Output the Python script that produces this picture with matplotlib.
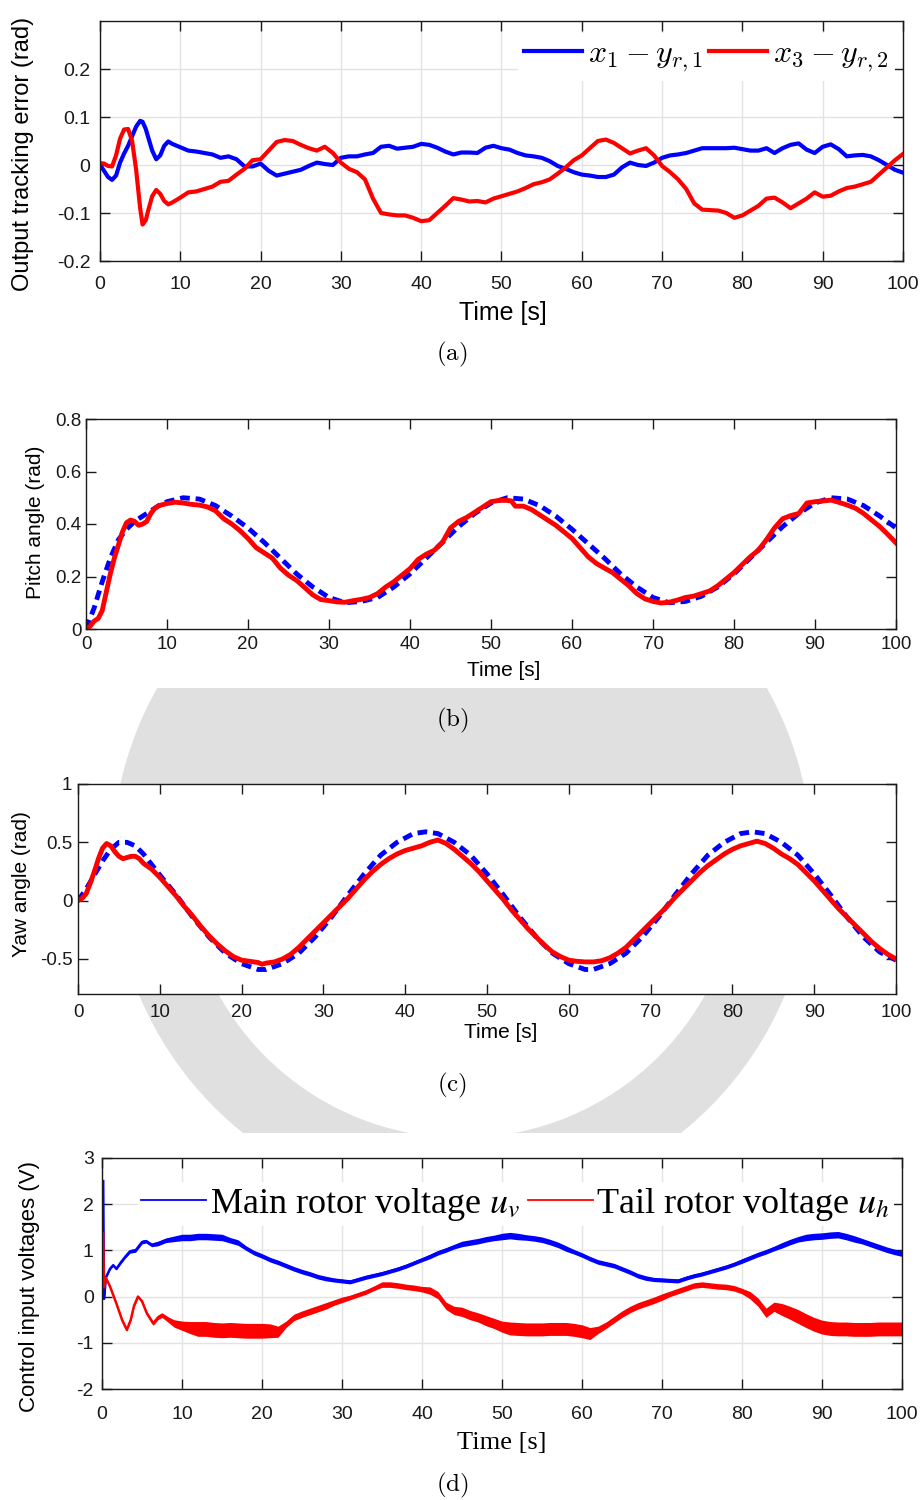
"""Helicopter tracking results: errors, pitch, yaw and control voltages (4 panels)."""
import numpy as np
import matplotlib.pyplot as plt
import matplotlib as mpl
from matplotlib.patches import Wedge, Rectangle, Circle
from matplotlib.font_manager import FontProperties

mpl.rcParams.update({
    "font.family": ["Liberation Sans", "DejaVu Sans"],
    "axes.linewidth": 1.0,
    "axes.edgecolor": "#1a1a1a",
    "xtick.direction": "in",
    "ytick.direction": "in",
    "xtick.top": True,
    "ytick.right": True,
    "xtick.major.size": 7,
    "ytick.major.size": 7,
    "axes.grid": False,
})

# ---------------- data ----------------
X_TICKS = [0, 10, 20, 30, 40, 50, 60, 70, 80, 90, 100]

# (a) output tracking error
t_err = [0, 0.5, 1, 1.5, 2, 2.5, 3, 3.5, 4, 4.5, 5, 5.3, 5.7, 6, 6.5, 7, 7.5, 8, 8.5, 9,
         10, 11, 12, 13, 14, 15, 16, 17, 18, 19, 20, 21, 22, 23, 24, 25, 26, 27, 28, 29,
         30, 31, 32, 33, 34, 35, 36, 37, 38, 39, 40, 41, 42, 43, 44, 45, 46, 47, 48, 49,
         50, 51, 52, 53, 54, 55, 56, 57, 58, 59, 60, 61, 62, 63, 64, 65, 66, 67, 68, 69,
         70, 71, 72, 73, 74, 75, 76, 77, 78, 79, 80, 81, 82, 83, 84, 85, 86, 87, 88, 89,
         90, 91, 92, 93, 94, 95, 96, 97, 98, 99, 100]
err_pitch = [0.0, -0.012, -0.025, -0.031, -0.022, 0.005, 0.024, 0.04, 0.06, 0.08, 0.092, 0.09, 0.075,
             0.058, 0.03, 0.012, 0.02, 0.04, 0.049, 0.044,
             0.037, 0.03, 0.028, 0.025, 0.022, 0.015, 0.018, 0.012, -0.003, -0.003,
             0.003, -0.012, -0.022, -0.018, -0.014, -0.01, -0.002, 0.005, 0.002, 0.0,
             0.015, 0.018, 0.018, 0.022, 0.025, 0.038, 0.04, 0.034, 0.036, 0.038,
             0.044, 0.042, 0.036, 0.028, 0.022, 0.026, 0.026, 0.025, 0.036, 0.04,
             0.035, 0.032, 0.025, 0.02, 0.018, 0.015, 0.008, -0.002, -0.008, -0.015,
             -0.02, -0.022, -0.025, -0.025, -0.02, -0.005, 0.005, 0.0, -0.002, 0.005,
             0.015, 0.02, 0.022, 0.025, 0.03, 0.035, 0.035, 0.035, 0.035, 0.036,
             0.033, 0.03, 0.03, 0.035, 0.025, 0.035, 0.042, 0.045, 0.032, 0.025,
             0.038, 0.043, 0.033, 0.018, 0.02, 0.021, 0.018, 0.01, 0.0, -0.01, -0.016]
err_yaw = [0.004, 0.003, -0.002, -0.003, 0.02, 0.055, 0.074, 0.075, 0.05, -0.01, -0.09, -0.124, -0.115,
           -0.095, -0.065, -0.052, -0.06, -0.075, -0.082, -0.078,
           -0.068, -0.057, -0.055, -0.05, -0.045, -0.035, -0.033, -0.02, -0.008, 0.01,
           0.012, 0.03, 0.048, 0.052, 0.05, 0.042, 0.035, 0.03, 0.038, 0.025,
           0.005, -0.008, -0.015, -0.03, -0.07, -0.1, -0.103, -0.105, -0.105, -0.11,
           -0.117, -0.115, -0.1, -0.085, -0.069, -0.072, -0.076, -0.075, -0.078, -0.07,
           -0.065, -0.06, -0.055, -0.048, -0.04, -0.036, -0.03, -0.018, -0.005, 0.01,
           0.02, 0.035, 0.05, 0.053, 0.046, 0.035, 0.024, 0.03, 0.035, 0.02,
           -0.002, -0.015, -0.03, -0.05, -0.08, -0.093, -0.094, -0.095, -0.1, -0.11,
           -0.105, -0.095, -0.085, -0.07, -0.068, -0.078, -0.09, -0.08, -0.07, -0.057,
           -0.066, -0.064, -0.055, -0.048, -0.045, -0.04, -0.035, -0.02, -0.005, 0.01, 0.023]
ERR_YTICKS = [-0.2, -0.1, 0, 0.1, 0.2]
ERR_YLABELS = ["-0.2", "-0.1", "0", "0.1", "0.2"]

# (b) pitch angle
t_pitch_ref = [0, 1, 2, 3, 4, 5, 6, 7, 8, 9, 10, 12, 14, 16, 18, 20, 22, 24, 26, 28, 30, 32,
               34, 36, 38, 40, 42, 44, 46, 48, 50, 52, 54, 56, 58, 60, 62, 64, 66, 68, 70,
               72, 74, 76, 78, 80, 82, 84, 86, 88, 90, 92, 94, 96, 98, 100]
pitch_ref = [0.0, 0.08, 0.18, 0.27, 0.34, 0.38, 0.41, 0.43, 0.45, 0.47, 0.485, 0.5, 0.495,
             0.47, 0.43, 0.385, 0.33, 0.27, 0.21, 0.16, 0.12, 0.1, 0.105, 0.12, 0.16, 0.21,
             0.27, 0.33, 0.39, 0.44, 0.48, 0.5, 0.495, 0.47, 0.43, 0.38, 0.325, 0.27, 0.21,
             0.16, 0.12, 0.1, 0.105, 0.125, 0.16, 0.21, 0.27, 0.33, 0.39, 0.44, 0.48, 0.5,
             0.495, 0.47, 0.43, 0.385]
t_pitch = [0, 0.5, 1, 1.5, 2, 2.5, 3, 3.5, 4, 4.5, 5, 5.5, 6, 6.5, 7, 7.5, 8, 8.5, 9,
           10, 11, 12, 13, 14, 15, 16, 17, 18, 19, 20, 21, 22, 23, 24, 25, 26, 27, 28, 29,
           30, 31, 32, 33, 34, 35, 36, 37, 38, 39, 40, 41, 42, 43, 44, 45, 46, 47, 48, 49,
           50, 51, 52, 52.5, 53, 54, 55, 56, 57, 58, 59, 60, 61, 62, 63, 64, 65, 66, 67, 68, 69,
           70, 71, 72, 73, 74, 75, 76, 77, 78, 79, 80, 81, 82, 83, 84, 85, 86, 87, 88, 89,
           90, 91, 92, 93, 94, 95, 96, 97, 98, 99, 100]
pitch = [0.0, 0.01, 0.03, 0.04, 0.07, 0.14, 0.21, 0.27, 0.32, 0.37, 0.405, 0.415, 0.41, 0.395,
         0.4, 0.41, 0.44, 0.46, 0.47,
         0.478, 0.483, 0.48, 0.475, 0.472, 0.465, 0.45, 0.42, 0.4, 0.375, 0.345,
         0.31, 0.29, 0.27, 0.232, 0.205, 0.185, 0.158, 0.13, 0.112,
         0.108, 0.103, 0.102, 0.108, 0.113, 0.12, 0.135, 0.16, 0.18, 0.205,
         0.23, 0.265, 0.285, 0.3, 0.33, 0.385, 0.41, 0.425, 0.445, 0.465,
         0.485, 0.49, 0.49, 0.488, 0.468, 0.468, 0.455, 0.435, 0.415, 0.395, 0.37,
         0.345, 0.31, 0.275, 0.25, 0.232, 0.215, 0.19, 0.165, 0.135, 0.115,
         0.105, 0.099, 0.102, 0.11, 0.12, 0.125, 0.135, 0.145, 0.165, 0.19,
         0.215, 0.245, 0.275, 0.3, 0.34, 0.385, 0.42, 0.432, 0.44, 0.48,
         0.485, 0.488, 0.491, 0.482, 0.472, 0.46, 0.44, 0.415, 0.39, 0.36, 0.328]
PITCH_YTICKS = [0, 0.2, 0.4, 0.6, 0.8]
PITCH_YLABELS = ["0", "0.2", "0.4", "0.6", "0.8"]

# (c) yaw angle
t_yaw_ref = [0, 1, 2, 3, 4, 5, 6, 7, 8, 10, 12, 14, 16, 18, 20, 22, 23, 25, 27, 29, 31, 33,
             35, 37, 39, 41, 42.5, 44, 46, 48, 50, 52, 54, 56, 58, 60, 62, 63, 65, 67, 69,
             71, 73, 75, 77, 79, 81, 82.5, 84, 86, 88, 90, 92, 94, 96, 98, 100]
yaw_ref = [0.0, 0.1, 0.22, 0.34, 0.44, 0.5, 0.5, 0.47, 0.4, 0.22, 0.05, -0.14, -0.31, -0.45,
           -0.54, -0.59, -0.59, -0.54, -0.45, -0.31, -0.14, 0.05, 0.23, 0.39, 0.5, 0.575,
           0.59, 0.575, 0.5, 0.39, 0.23, 0.05, -0.14, -0.31, -0.45, -0.54, -0.59, -0.59,
           -0.54, -0.45, -0.31, -0.14, 0.05, 0.23, 0.39, 0.5, 0.575, 0.59, 0.575, 0.5, 0.39,
           0.23, 0.05, -0.14, -0.31, -0.44, -0.51]
t_yaw = [0, 0.5, 1, 1.5, 2, 2.5, 3, 3.5, 4, 4.5, 5, 5.5, 6, 6.5, 7, 7.5, 8, 9,
         10, 11, 12, 13, 14, 15, 16, 17, 18, 19, 20, 21, 22, 22.5, 23, 24, 25, 26, 27, 28, 29,
         30, 31, 32, 33, 34, 35, 36, 37, 38, 39, 40, 41, 42, 43, 44, 45, 46, 47, 48, 49,
         50, 51, 52, 53, 54, 55, 56, 57, 58, 59, 60, 61, 62, 63, 64, 65, 66, 67, 68, 69,
         70, 71, 72, 73, 74, 75, 76, 77, 78, 79, 80, 81, 82, 83, 84, 85, 86, 87, 88, 89,
         90, 91, 92, 93, 94, 95, 96, 97, 98, 99, 100]
yaw = [0.0, 0.02, 0.06, 0.15, 0.25, 0.36, 0.45, 0.49, 0.47, 0.42, 0.38, 0.36, 0.37, 0.38,
       0.38, 0.36, 0.32, 0.27,
       0.2, 0.12, 0.04, -0.05, -0.13, -0.22, -0.3, -0.37, -0.43, -0.48, -0.51, -0.52, -0.53,
       -0.545, -0.535, -0.525, -0.5, -0.46, -0.4, -0.33, -0.26,
       -0.19, -0.12, -0.05, 0.02, 0.1, 0.18, 0.25, 0.31, 0.36, 0.4,
       0.43, 0.45, 0.47, 0.5, 0.52, 0.49, 0.44, 0.38, 0.32, 0.25,
       0.17, 0.09, 0.01, -0.08, -0.16, -0.24, -0.31, -0.38, -0.44, -0.48,
       -0.51, -0.52, -0.525, -0.525, -0.515, -0.49, -0.45, -0.4, -0.33, -0.26,
       -0.19, -0.12, -0.05, 0.03, 0.1, 0.17, 0.24, 0.3, 0.35, 0.4,
       0.44, 0.47, 0.49, 0.51, 0.49, 0.45, 0.4, 0.36, 0.31, 0.24,
       0.17, 0.09, 0.01, -0.07, -0.14, -0.21, -0.28, -0.35, -0.41, -0.46, -0.5]
YAW_YTICKS = [-0.5, 0, 0.5, 1]
YAW_YLABELS = ["-0.5", "0", "0.5", "1"]

# (d) control voltages: centre line and half-width of the chattering band
t_uv = [0.15, 0.25, 0.5, 1.0, 1.4, 1.8, 2.4, 2.9, 3.5, 4.2, 5.0, 5.5, 6.2, 7.0, 8.0, 9,
        10, 11, 12, 13, 14, 15, 16, 17, 18, 19, 20, 21, 22, 23, 24, 25, 26, 27, 28, 29,
        30, 31, 32, 33, 34, 35, 36, 37, 38, 39, 40, 41, 42, 43, 44, 45, 46, 47, 48, 49,
        50, 51, 52, 53, 54, 55, 56, 57, 58, 59, 60, 61, 62, 63, 64, 65, 66, 67, 68, 69,
        70, 71, 72, 73, 74, 75, 76, 77, 78, 79, 80, 81, 82, 83, 84, 85, 86, 87, 88, 89,
        90, 91, 92, 93, 94, 95, 96, 97, 98, 99, 100]
u_v = [2.5, -0.05, 0.42, 0.6, 0.68, 0.6, 0.75, 0.86, 0.98, 1.0, 1.18, 1.2, 1.12, 1.15, 1.22, 1.25,
       1.28, 1.28, 1.3, 1.3, 1.29, 1.28, 1.22, 1.17, 1.05, 0.95, 0.88, 0.8, 0.74, 0.67,
       0.6, 0.54, 0.49, 0.43, 0.39, 0.36, 0.34, 0.32, 0.37, 0.42, 0.46, 0.5, 0.55, 0.6,
       0.66, 0.73, 0.8, 0.87, 0.95, 1.01, 1.08, 1.14, 1.17, 1.2, 1.24, 1.27, 1.3, 1.32,
       1.3, 1.28, 1.26, 1.23, 1.18, 1.12, 1.04, 0.97, 0.9, 0.82, 0.75, 0.71, 0.67, 0.6,
       0.53, 0.45, 0.4, 0.37, 0.36, 0.35, 0.34, 0.4, 0.45, 0.49, 0.54, 0.59, 0.64, 0.7,
       0.77, 0.84, 0.91, 0.97, 1.04, 1.11, 1.18, 1.24, 1.28, 1.3, 1.31, 1.33, 1.34, 1.3,
       1.25, 1.2, 1.14, 1.08, 1.02, 0.97, 0.93]
u_v_band = [0.0, 0.0, 0.02, 0.02, 0.02, 0.02, 0.03, 0.03, 0.04, 0.04, 0.04, 0.04, 0.04, 0.05, 0.05, 0.06,
            0.07, 0.07, 0.07, 0.07, 0.07, 0.07, 0.06, 0.06, 0.05, 0.05, 0.05, 0.05, 0.05, 0.05,
            0.05, 0.05, 0.05, 0.05, 0.05, 0.045, 0.045, 0.045, 0.045, 0.045, 0.045, 0.045, 0.045,
            0.045, 0.045, 0.045, 0.045, 0.05, 0.05, 0.05, 0.05, 0.06, 0.06, 0.06, 0.06, 0.06,
            0.07, 0.07, 0.07, 0.06, 0.06, 0.06, 0.06, 0.06, 0.06, 0.05, 0.05, 0.05, 0.05, 0.05,
            0.05, 0.05, 0.05, 0.05, 0.05, 0.045, 0.045, 0.045, 0.045, 0.045, 0.045, 0.045, 0.045,
            0.045, 0.045, 0.045, 0.05, 0.05, 0.05, 0.05, 0.05, 0.06, 0.06, 0.06, 0.07, 0.07,
            0.07, 0.07, 0.07, 0.07, 0.07, 0.06, 0.06, 0.06, 0.06, 0.06, 0.06]
t_uh = [0.15, 0.25, 0.5, 1.0, 1.8, 2.5, 3.1, 3.6, 4.0, 4.5, 5.0, 5.6, 6.4, 7.0, 7.5, 8.3, 9,
        10, 11, 12, 13, 14, 15, 16, 17, 18, 19, 20, 21, 22, 23, 24, 25, 26, 27, 28, 29,
        30, 31, 32, 33, 34, 35, 36, 37, 38, 39, 40, 41, 42, 43, 44, 45, 46, 47, 48, 49,
        50, 51, 52, 53, 54, 55, 56, 57, 58, 59, 60, 61, 62, 63, 64, 65, 66, 67, 68, 69,
        70, 71, 72, 73, 74, 75, 76, 77, 78, 79, 80, 81, 82, 83, 84, 85, 86, 87, 88, 89,
        90, 91, 92, 93, 94, 95, 96, 97, 98, 99, 100]
u_h = [1.37, 0.2, 0.4, 0.22, -0.15, -0.5, -0.72, -0.5, -0.2, 0.0, -0.1, -0.36, -0.58, -0.45,
       -0.4, -0.5, -0.58,
       -0.63, -0.67, -0.7, -0.7, -0.72, -0.73, -0.72, -0.73, -0.74, -0.74, -0.74, -0.74,
       -0.76, -0.6, -0.45, -0.38, -0.32, -0.26, -0.2, -0.13, -0.07, -0.02, 0.04, 0.1,
       0.18, 0.26, 0.26, 0.24, 0.21, 0.19, 0.16, 0.13, 0.03, -0.2, -0.3, -0.33, -0.4,
       -0.45, -0.52, -0.58, -0.65, -0.69, -0.7, -0.71, -0.71, -0.71, -0.7, -0.7, -0.7,
       -0.72, -0.75, -0.8, -0.72, -0.62, -0.5, -0.38, -0.28, -0.2, -0.14, -0.08, -0.01,
       0.06, 0.12, 0.18, 0.24, 0.26, 0.24, 0.22, 0.21, 0.18, 0.12, 0.03, -0.12, -0.35,
       -0.22, -0.28, -0.35, -0.43, -0.52, -0.6, -0.66, -0.69, -0.7, -0.7, -0.71, -0.71,
       -0.71, -0.7, -0.7, -0.7, -0.7]
u_h_band = [0.0, 0.0, 0.03, 0.03, 0.03, 0.03, 0.03, 0.03, 0.03, 0.03, 0.03, 0.04, 0.04, 0.05,
            0.05, 0.06, 0.08,
            0.1, 0.13, 0.16, 0.16, 0.16, 0.16, 0.16, 0.16, 0.16, 0.16, 0.16, 0.15, 0.12,
            0.07, 0.07, 0.07, 0.07, 0.07, 0.07, 0.06, 0.06, 0.05, 0.05, 0.05, 0.05, 0.06,
            0.06, 0.06, 0.06, 0.06, 0.06, 0.08, 0.08, 0.08, 0.09, 0.1, 0.1, 0.1, 0.11,
            0.11, 0.12, 0.14, 0.14, 0.14, 0.14, 0.14, 0.14, 0.14, 0.14, 0.14, 0.14, 0.13,
            0.08, 0.07, 0.07, 0.07, 0.07, 0.07, 0.07, 0.07, 0.07, 0.06, 0.06, 0.06, 0.06,
            0.06, 0.06, 0.06, 0.06, 0.06, 0.06, 0.08, 0.09, 0.1, 0.1, 0.13, 0.14, 0.15,
            0.15, 0.15, 0.15, 0.15, 0.15, 0.15, 0.15, 0.15, 0.15, 0.15, 0.15, 0.15, 0.15]
U_YTICKS = [-2, -1, 0, 1, 2, 3]
U_YLABELS = ["-2", "-1", "0", "1", "2", "3"]

BLUE = "#0000ff"
RED = "#ff0000"
GRID = "#e3e3e3"
WATERMARK = "#e0e0e0"

W_PX, H_PX = 924, 1500


def px_rect(left, top, right, bottom):
    """Axes rectangle from pixel box (origin top-left)."""
    return [left / W_PX, 1 - bottom / H_PX, (right - left) / W_PX, (bottom - top) / H_PX]


def fig_label(fig, x, y, text, **kw):
    """Place a text at pixel centre (x, y), origin top-left."""
    fig.text(x / W_PX, 1 - y / H_PX, text, ha="center", va="center", zorder=3, **kw)


def style_axes(ax, yticks, ylabels, ylim, tick_fs, grid=False):
    ax.set_xlim(0, 100)
    ax.set_ylim(*ylim)
    ax.set_xticks(X_TICKS)
    ax.set_xticklabels([str(v) for v in X_TICKS])
    ax.set_yticks(yticks)
    ax.set_yticklabels(ylabels)
    ax.tick_params(labelsize=tick_fs, colors="#1a1a1a", width=1.0)
    ax.set_facecolor("white")
    if grid:
        ax.grid(color=GRID, linewidth=1.0)
        ax.set_axisbelow(True)


def main():
    fig = plt.figure(figsize=(W_PX / 100, H_PX / 100), dpi=100)

    # faint emblem watermark, only seen in the gaps between panels
    bg = fig.add_axes([0, 0, 1, 1], zorder=0)
    bg.set_xlim(0, W_PX)
    bg.set_ylim(H_PX, 0)
    bg.axis("off")
    ring = Wedge((462, 860), 350, 0, 360, width=72, color=WATERMARK, lw=0)
    bg.add_patch(ring)
    ring.set_clip_path(Rectangle((0, 688), W_PX, 445, transform=bg.transData))
    cap = Circle((462, 860), 290, color=WATERMARK, lw=0)
    bg.add_patch(cap)
    cap.set_clip_path(Rectangle((0, 688), W_PX, 172, transform=bg.transData))

    # (a) output tracking error
    ax = fig.add_axes(px_rect(100, 21, 903, 261), zorder=1)
    style_axes(ax, ERR_YTICKS, ERR_YLABELS, (-0.2, 0.3), 14, grid=True)
    ax.tick_params(axis="x", pad=11)
    ax.tick_params(axis="y", pad=7)
    ax.plot(t_err, err_pitch, color=BLUE, lw=3, label=r"$x_1 - y_{r,1}$")
    ax.plot(t_err, err_yaw, color=RED, lw=3, label=r"$x_3 - y_{r,2}$")
    ax.legend(loc="center right", bbox_to_anchor=(0.99, 0.85), ncol=2, frameon=True,
              fancybox=False, facecolor="white", edgecolor="none", framealpha=1,
              prop=FontProperties(size=23, math_fontfamily="cm"),
              handlelength=1.8, handletextpad=0.2, columnspacing=0.2,
              borderpad=0.2, borderaxespad=0.0)
    fig_label(fig, 503, 313, "Time [s]", fontsize=18)
    fig_label(fig, 23, 154, "Output tracking error (rad)", fontsize=17, rotation=90)

    # (b) pitch angle
    ax = fig.add_axes(px_rect(86, 419, 896, 629), zorder=1)
    style_axes(ax, PITCH_YTICKS, PITCH_YLABELS, (0, 0.8), 13.5)
    ax.tick_params(axis="x", pad=5)
    ax.tick_params(axis="y", pad=3)
    ax.plot(t_pitch_ref, pitch_ref, color=BLUE, lw=3.5, dashes=(2.0, 1.2))
    ax.plot(t_pitch, pitch, color=RED, lw=3.5)
    fig_label(fig, 504, 671, "Time [s]", fontsize=15)
    fig_label(fig, 36, 522, "Pitch angle (rad)", fontsize=15, rotation=90)

    # (c) yaw angle
    ax = fig.add_axes(px_rect(78, 784, 896, 994), zorder=1)
    style_axes(ax, YAW_YTICKS, YAW_YLABELS, (-0.8, 1.0), 13.5)
    ax.tick_params(axis="x", pad=7)
    ax.tick_params(axis="y", pad=4)
    ax.plot(t_yaw_ref, yaw_ref, color=BLUE, lw=3.5, dashes=(2.0, 1.2))
    ax.plot(t_yaw, yaw, color=RED, lw=3.5)
    fig_label(fig, 501, 1033, "Time [s]", fontsize=15)
    fig_label(fig, 22, 884, "Yaw angle (rad)", fontsize=15, rotation=90)

    # (d) control input voltages
    ax = fig.add_axes(px_rect(102, 1158, 902, 1389), zorder=1)
    style_axes(ax, U_YTICKS, U_YLABELS, (-2, 3), 14, grid=True)
    ax.tick_params(axis="x", pad=12)
    ax.tick_params(axis="y", pad=6)
    uv = np.array(u_v)
    uvb = np.array(u_v_band)
    uh = np.array(u_h)
    uhb = np.array(u_h_band)
    ax.fill_between(t_uv, uv - uvb, uv + uvb, color=BLUE, lw=0)
    ax.plot(t_uv, u_v, color=BLUE, lw=1.8, label=r"Main rotor voltage $u_v$")
    ax.fill_between(t_uh, uh - uhb, uh + uhb, color=RED, lw=0)
    ax.plot(t_uh, u_h, color=RED, lw=1.8, label=r"Tail rotor voltage $u_h$")
    leg = ax.legend(loc="center right", bbox_to_anchor=(0.99, 0.80), ncol=2, frameon=True,
                    fancybox=False, facecolor="white", edgecolor="none", framealpha=1,
                    prop=FontProperties(family="Liberation Serif", size=26,
                                        math_fontfamily="stix"),
                    handlelength=1.8, handletextpad=0.1, columnspacing=0.2,
                    borderpad=0.1, borderaxespad=0.0)
    for h in leg.get_lines():
        h.set_linewidth(1.3)
    fig_label(fig, 502, 1443, "Time [s]", fontsize=19, family="Liberation Serif")
    fig_label(fig, 30, 1287, "Control input voltages (V)", fontsize=16, rotation=90)

    # sub-figure captions
    for label, y in [("(a)", 354), ("(b)", 720), ("(c)", 1085), ("(d)", 1485)]:
        fig_label(fig, 452, y, r"$\mathrm{" + label + "}$", fontsize=18, math_fontfamily="cm")

    fig.savefig("out.png", dpi=100)
    plt.close(fig)


if __name__ == "__main__":
    main()
